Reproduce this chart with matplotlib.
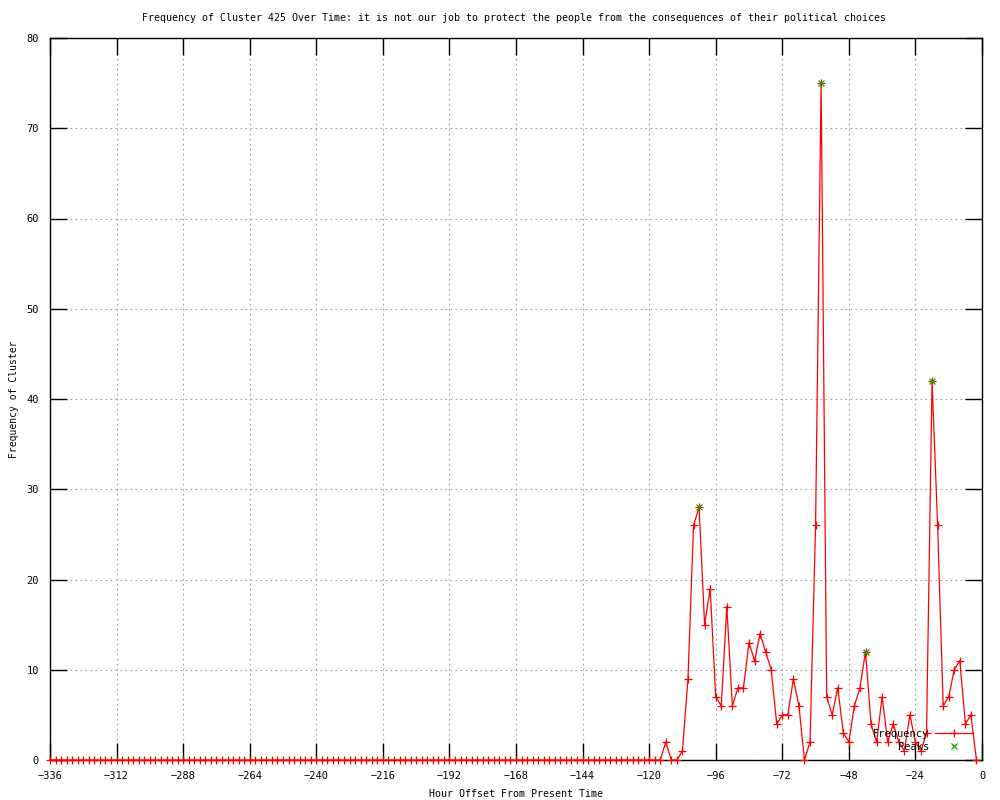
import numpy as np
import matplotlib
matplotlib.use("Agg")
import matplotlib.pyplot as plt

# hour offsets, every 2 hours from -336 to -2
hours = list(range(-336, 0, 2))

# non-zero part, from -114 up to -2 (everything before is 0)
recent = [2, 0, 0, 1, 9, 26, 28, 15, 19, 7, 6, 17, 6, 8, 8, 13, 11, 14, 12, 10,
          4, 5, 5, 9, 6, 0, 2, 26, 75, 7, 5, 8, 3, 2, 6, 8, 12, 4, 2, 7,
          2, 4, 2, 1, 5, 2, 1, 3, 42, 26, 6, 7, 10, 11, 4, 5, 0]
freq = [0] * (len(hours) - len(recent)) + recent

peak_hours = [-102, -58, -42, -18]
peak_vals = [28, 75, 12, 42]

xticks = list(range(-336, 1, 24))
yticks = list(range(0, 81, 10))

plt.rcParams['font.family'] = ['DejaVu Sans Mono', 'DejaVu Sans']

fig = plt.figure(figsize=(10, 8), dpi=100)
ax = fig.add_axes([0.05, 0.05, 0.932, 0.9025])

ax.plot(hours, freq, color="red", lw=0.9, marker="+", markersize=6,
        markeredgewidth=0.9, label="Frequency", clip_on=False, zorder=3)
ax.plot(peak_hours, peak_vals, ls="none", marker="x", color="#00b000",
        markersize=5, markeredgewidth=0.9, label="Peaks", zorder=4)

ax.set_xlim(-336, 0)
ax.set_ylim(0, 80)
ax.set_xticks(xticks)
ax.set_yticks(yticks)
ax.set_xticklabels([str(t).replace("-", "\u2212") for t in xticks])
ax.tick_params(direction="in", length=12, width=1, top=True, right=True,
               labelsize=7.5, pad=8)
ax.grid(True, color="#a0a0a0", ls=(0, (1.5, 3)), lw=0.8)
for s in ax.spines.values():
    s.set_linewidth(1)

ax.set_xlabel("Hour Offset From Present Time", fontsize=7.2, labelpad=6)
ax.set_ylabel("Frequency of Cluster", fontsize=7.0)
ax.yaxis.set_label_coords(-0.0335, 0.5)
fig.text(0.5145, 0.9775,
         "Frequency of Cluster 425 Over Time: it is not our job to protect "
         "the people from the consequences of their political choices",
         fontsize=7.2, ha="center", va="center")

ax.legend(loc="lower right", bbox_to_anchor=(0.99, 0.011), frameon=False,
          markerfirst=False, fontsize=7.5, handlelength=3.6, borderpad=0,
          borderaxespad=0, labelspacing=0.3, handletextpad=0.6)

fig.savefig("out.png", dpi=100)
